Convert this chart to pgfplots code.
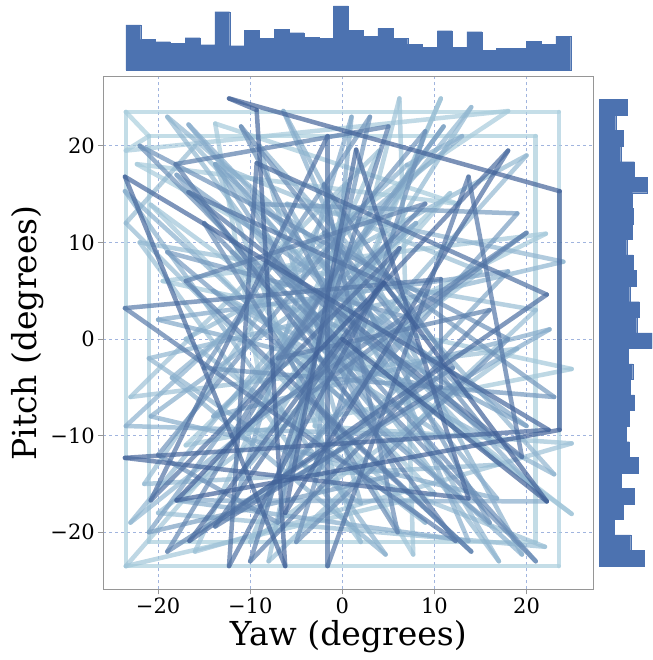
\documentclass[border=0pt]{standalone}
\usepackage{pgfplots}
\pgfplotsset{compat=1.18}
\usepackage{fontspec}
\setmainfont{DejaVu Serif}

\definecolor{histblue}{RGB}{76,114,176}
\definecolor{gridblue}{RGB}{160,180,222}
\definecolor{framegray}{RGB}{150,150,150}

% path of the gaze (yaw, pitch), in time order
\pgfplotstableread{
x y
-23.5 23.5
23.5 23.5
23.5 -23.5
-23.5 -23.5
-23.5 23.5
-21.0 21.0
21.0 21.0
21.0 -21.0
-21.0 -21.0
-21.0 21.0
-23.5 19.5
18.0 23.6
-5.0 9.0
-22.3 18.1
12.5 14.0
-13.8 22.3
-9.0 -4.0
22.1 10.9
-19.5 6.0
24.9 -3.1
-17.0 -11.0
11.7 15.1
-23.5 -23.5
10.0 -16.0
-20.8 13.9
24.9 -18.1
-12.0 9.0
7.7 -22.3
6.2 24.9
-3.0 -9.0
24.9 -10.8
-16.0 -22.0
4.0 19.5
-23.0 -6.0
19.0 -1.0
-10.0 -21.0
10.7 24.9
-6.0 -11.0
22.0 -21.5
-20.0 -18.0
15.0 7.0
-13.8 18.1
2.0 -21.0
-22.0 10.0
21.0 3.0
-8.0 -23.0
0.5 16.0
-21.5 -15.0
17.0 -13.0
-16.0 20.0
-23.5 12.0
9.0 -19.0
-17.0 0.0
20.0 19.0
-11.0 -14.0
14.0 24.0
-23.0 -19.0
6.0 3.0
-19.0 23.0
17.0 -23.0
-6.0 14.0
24.0 8.0
-21.0 -2.0
2.0 -17.0
-9.0 20.0
23.0 -14.0
-14.0 5.0
11.0 -10.0
-23.5 -9.0
7.0 18.0
13.0 21.0
-18.5 -4.0
4.7 -22.3
-23.6 15.3
19.5 -22.3
-6.4 23.6
13.7 -20.9
-18.0 -16.7
22.2 -16.8
-16.7 22.2
16.8 -16.5
-20.8 -8.0
8.0 12.0
-14.0 -8.0
22.5 1.0
-12.0 -18.0
1.0 23.0
-3.0 -14.0
18.0 7.0
-20.0 2.0
14.0 -6.0
-13.8 18.1
4.0 -8.0
-18.0 17.0
20.0 -9.0
-4.0 3.0
11.0 22.0
-21.0 -20.0
6.0 -14.0
-10.0 14.0
19.0 13.0
-8.0 -16.0
8.0 2.0
-19.0 9.0
16.0 -19.0
-2.0 11.0
23.0 -6.0
-15.0 -3.0
3.0 23.0
-7.0 -19.0
-20.0 -12.0
9.0 21.5
-5.0 -21.0
18.0 0.0
-22.0 20.0
3.0 -4.0
-11.0 22.0
16.0 -10.0
-8.0 8.0
21.0 -23.0
-15.0 12.0
6.0 -20.0
-2.0 16.0
12.0 -3.0
-19.0 -22.0
0.0 8.0
-12.0 -10.0
20.0 11.0
-4.0 -6.0
14.0 -22.0
-17.0 6.0
9.0 14.0
-7.0 -2.0
16.0 3.0
-10.0 -23.0
5.0 22.0
-18.1 18.1
12.3 -20.9
-23.6 3.2
10.7 6.2
10.7 -5.0
-13.8 -19.4
4.5 5.8
-16.7 15.2
19.5 -12.2
13.7 16.8
-1.6 -23.5
-1.6 21.0
-20.8 -16.7
6.2 9.4
-12.3 -23.5
-9.3 18.2
22.2 4.6
-16.6 -20.9
4.5 5.8
18.0 19.5
-6.2 -18.0
1.5 19.6
13.7 -16.5
-23.6 -12.3
22.4 -9.4
-23.6 16.8
-6.2 -23.5
-9.3 23.7
-12.3 24.9
23.6 15.3
23.6 -9.4
-18.0 -16.7
4.5 5.8
22.2 -16.8
0.0 0.0
}\gazetable

\begin{document}
\begin{tikzpicture}
\useasboundingbox (-103.3pt,-70.7pt) rectangle (548.7pt,589.3pt);

\begin{axis}[
    at={(0pt,0pt)}, anchor=south west,
    scale only axis,
    width=490pt, height=512.6pt,
    xmin=-25.95, xmax=27.25,
    ymin=-25.9, ymax=27.15,
    xtick={-20,-10,0,10,20},
    xticklabels={−20,−10,0,10,20},
    ytick={-20,-10,0,10,20},
    yticklabels={−20,−10,0,10,20},
    tick pos=left,
    tick align=outside,
    major tick length=5pt,
    tick style={framegray, line width=0.8pt},
    axis line style={framegray, line width=0.9pt},
    grid=major,
    major grid style={gridblue, dashed, line width=0.8pt},
    tick label style={font=\fontsize{21}{25}\selectfont},
    label style={font=\fontsize{33}{40}\selectfont},
    xlabel={Yaw (degrees)},
    ylabel={Pitch (degrees)},
    colormap={traj}{rgb255=(172,208,222) rgb255=(132,170,202) rgb255=(62,94,150)},
]
\addplot[mesh, point meta=\coordindex, line width=4.5pt, opacity=0.7, line cap=round, line join=round]
    table[x=x, y=y] {\gazetable};
\end{axis}

% top marginal: yaw histogram
\begin{axis}[
    at={(0pt,512.6pt)}, anchor=south west,
    scale only axis,
    width=490pt, height=72.7pt,
    xmin=-25.95, xmax=27.25,
    ymin=-20, ymax=198,
    axis lines=none,
    ticks=none,
]
\addplot[ybar interval, fill=histblue, draw=histblue, line width=0.2pt] coordinates {
(-23.50,135) (-21.89,92) (-20.28,85) (-18.67,80) (-17.06,97) (-15.45,76)
(-13.84,175) (-12.23,73) (-10.62,120) (-9.01,95) (-7.40,122) (-5.79,112)
(-4.18,99) (-2.57,96) (-0.96,192) (0.65,119) (2.26,102) (3.87,125)
(5.48,96) (7.09,78) (8.70,69) (10.31,118) (11.92,69) (13.53,115)
(15.14,59) (16.75,65) (18.36,66) (19.97,86) (21.58,78) (23.19,102)
(24.80,102)
};
\end{axis}

% right marginal: pitch histogram
\begin{axis}[
    at={(490pt,0pt)}, anchor=south west,
    scale only axis,
    width=58.7pt, height=512.6pt,
    xmin=-18, xmax=158,
    ymin=-25.9, ymax=27.15,
    axis lines=none,
    ticks=none,
]
\addplot[xbar interval, fill=histblue, draw=histblue, line width=0.2pt] coordinates {
(134,-23.50) (94,-21.89) (45,-20.28) (72,-18.67) (105,-17.06) (65,-15.45)
(117,-13.84) (90,-12.23) (80,-10.62) (90,-9.01) (105,-7.40) (93,-5.79)
(100,-4.18) (86,-2.57) (158,-0.96) (112,0.65) (120,2.26) (91,3.87)
(110,5.48) (101,7.09) (82,8.70) (98,10.31) (101,11.92) (99,13.53)
(143,15.14) (105,16.75) (64,18.36) (72,19.97) (49,21.58) (84,23.19)
(84,24.80)
};
\end{axis}
\end{tikzpicture}
\end{document}
